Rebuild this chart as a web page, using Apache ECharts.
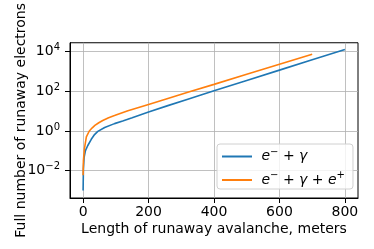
<!DOCTYPE html>
<html>
<head>
<meta charset="utf-8">
<script src="https://cdn.jsdelivr.net/npm/echarts@6/dist/echarts.min.js"></script>
<style>html,body{margin:0;padding:0;background:#fff}#c{width:374px;height:249px}</style>
</head>
<body>
<div id="c"></div>
<script>
// Data
const seriesNames = ['e⁻ + γ', 'e⁻ + γ + e⁺'];
const xBlue = [0, 1, 3, 7, 10, 14, 25, 35, 45, 66, 96, 121, 150, 200, 259, 320, 400, 500, 600, 700, 800];
const yBlue = [0.001, 0.0126, 0.045, 0.1, 0.13, 0.18, 0.38, 0.66, 0.95, 1.5, 2.35, 3.16, 4.6, 9.1, 19, 40, 107, 355, 1175, 3900, 12900];
const xOrange = [0, 1, 4, 7, 10, 19, 28, 36, 48, 60, 78, 96, 111, 137, 200, 259, 320, 400, 500, 600, 700];
const yOrange = [0.0058, 0.032, 0.126, 0.25, 0.5, 1.0, 1.45, 1.9, 2.6, 3.4, 4.7, 6.0, 7.4, 10.5, 21.9, 43.6, 89, 224, 724, 2340, 7400];
const xTicks = [0, 200, 400, 600, 800];
const yTicks = [0.01, 1, 100, 10000];
const xTitle = 'Length of runaway avalanche, meters';
const yTitle = 'Full number of runaway electrons';

const FONT = 'DejaVu Sans';
const chart = echarts.init(document.getElementById('c'), null, {renderer: 'canvas'});
const pair = (xs, ys) => xs.map((x, i) => [x, ys[i]]);
const legendRich = {
  i: {fontFamily: FONT, fontStyle: 'italic', fontSize: 14, color: '#000'},
  s: {fontFamily: FONT, fontSize: 10, color: '#000', padding: [0, 0, 9, 0]},
  t: {fontFamily: FONT, fontSize: 14, color: '#000'}
};
chart.setOption({
  animation: false,
  backgroundColor: '#fff',
  grid: {left: 70, right: 16, top: 38, bottom: 51, show: true, borderColor: '#000', borderWidth: 1, backgroundColor: 'transparent'},
  xAxis: {
    type: 'value', min: -40, max: 840,
    name: xTitle, nameLocation: 'middle', nameGap: 24, nameMoveOverlap: false,
    nameTextStyle: {fontFamily: FONT, fontSize: 14, color: '#000'},
    axisLine: {show: true, onZero: false, lineStyle: {color: '#000', width: 1}},
    axisTick: {show: true, length: 5, lineStyle: {color: '#000'}, customValues: xTicks},
    axisLabel: {fontFamily: FONT, fontSize: 14, color: '#000', margin: 7, customValues: xTicks},
    splitLine: {show: true, lineStyle: {color: '#b0b0b0', width: 0.8}}
  },
  yAxis: {
    type: 'log', logBase: 10, min: Math.pow(10, -3.38), max: Math.pow(10, 4.45),
    name: yTitle, nameLocation: 'middle', nameGap: 42, nameMoveOverlap: false,
    nameTextStyle: {fontFamily: FONT, fontSize: 14, color: '#000'},
    axisLine: {show: true, onZero: false, lineStyle: {color: '#000', width: 1}},
    axisTick: {show: true, length: 5, lineStyle: {color: '#000'}, customValues: yTicks},
    minorTick: {show: false},
    axisLabel: {
      fontFamily: FONT, fontSize: 14, color: '#000', margin: 10, customValues: yTicks,
      formatter: function (v) {
        const e = Math.round(Math.log10(v));
        return '{b|10}{s|' + (e < 0 ? '−' + (-e) : e) + '}';
      },
      rich: {
        b: {fontFamily: FONT, fontSize: 14, color: '#000'},
        s: {fontFamily: FONT, fontSize: 10, color: '#000', padding: [0, 0, 8, 0]}
      }
    },
    splitLine: {show: true, lineStyle: {color: '#b0b0b0', width: 0.8}}
  },
  legend: {
    orient: 'vertical', left: 217, top: 144,
    data: seriesNames,
    itemWidth: 30, itemHeight: 14, itemGap: 7,
    padding: [3, 8, 2, 4],
    borderColor: '#d0d0d0', borderWidth: 1, borderRadius: 3, backgroundColor: 'rgba(255,255,255,0.8)',
    itemStyle: {opacity: 0},
    formatter: function (name) {
      if (name === seriesNames[0]) return '{t| }{i|e}{s|−}{t| + }{i|γ}';
      return '{t| }{i|e}{s|−}{t| + }{i|γ}{t| + }{i|e}{s|+}';
    },
    textStyle: {rich: legendRich}
  },
  series: [
    {name: seriesNames[0], type: 'line', data: pair(xBlue, yBlue), symbol: 'none', showSymbol: false,
     lineStyle: {color: '#1f77b4', width: 1.6}, itemStyle: {color: '#1f77b4'}},
    {name: seriesNames[1], type: 'line', data: pair(xOrange, yOrange), symbol: 'none', showSymbol: false,
     lineStyle: {color: '#ff7f0e', width: 1.6}, itemStyle: {color: '#ff7f0e'}}
  ]
});
</script>
</body>
</html>
